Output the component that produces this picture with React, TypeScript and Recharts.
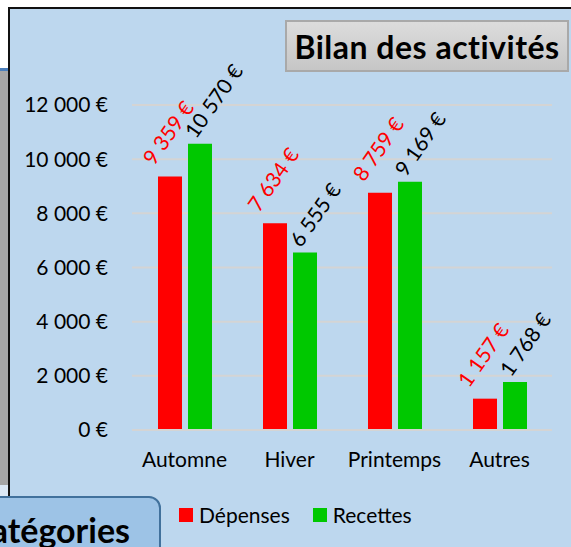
import { BarChart, Bar, XAxis, YAxis, CartesianGrid, LabelList } from "recharts"

const categories = ["Automne", "Hiver", "Printemps", "Autres"]
const depenses = [9359, 7634, 8759, 1157]
const recettes = [10570, 6555, 9169, 1768]
const yTicks = [0, 2000, 4000, 6000, 8000, 10000, 12000]

const series = [
  { key: "depenses", name: "Dépenses", color: "#ff0000", labelColor: "#ff0000", dx: -4, dy: -10 },
  { key: "recettes", name: "Recettes", color: "#00c800", labelColor: "#000000", dx: 8, dy: -4 },
]

const data = categories.map((name, i) => ({
  name,
  depenses: depenses[i],
  recettes: recettes[i],
}))

const FONT = "Lato, 'Open Sans', sans-serif"

const euro = (v: number) =>
  String(v).replace(/\B(?=(\d{3})+(?!\d))/g, "\u00a0") + "\u00a0€"

const rotatedLabel = (color: string, dx: number, dy: number) => (props: any) => {
  const { x, y, value } = props
  const lx = x + dx
  const ly = y + dy
  return (
    <text
      x={lx}
      y={ly}
      fill={color}
      fontSize={21}
      fontFamily={FONT}
      transform={`rotate(-55, ${lx}, ${ly})`}
    >
      {euro(value)}
    </text>
  )
}

export default function App() {
  return (
    <div
      style={{
        position: "absolute",
        left: 0,
        top: 0,
        width: 571,
        height: 547,
        overflow: "hidden",
        background: "#ffffff",
        fontFamily: FONT,
      }}
    >
      {/* fond du graphique */}
      <div
        style={{
          position: "absolute",
          left: 8,
          top: 7,
          right: 0,
          bottom: 0,
          background: "#bdd7ee",
          borderTop: "2px solid #111",
          borderLeft: "2px solid #111",
        }}
      />
      {/* bande grise à gauche */}
      <div
        style={{
          position: "absolute",
          left: 0,
          top: 68,
          width: 8,
          height: 417,
          background: "#a6a6a6",
          borderTop: "3px solid #4a7ebb",
          boxSizing: "border-box",
        }}
      />
      <div style={{ position: "absolute", left: 0, top: 485, width: 8, height: 12, background: "#dbe8f5" }} />

      <div style={{ position: "absolute", left: 0, top: 0 }}>
        <BarChart
          width={571}
          height={547}
          data={data}
          margin={{ top: 105, right: 19, left: 0, bottom: 77 }}
          barSize={24}
          barGap={6}
        >
          <CartesianGrid vertical={false} stroke="#d4d4d4" strokeWidth={2} />
          <XAxis
            dataKey="name"
            height={40}
            axisLine={{ stroke: "#d4d4d4", strokeWidth: 2 }}
            tickLine={false}
            tickSize={0}
            tickMargin={22}
            tick={{ fill: "#000", fontSize: 21, fontFamily: FONT }}
          />
          <YAxis
            width={132}
            domain={[0, 12000]}
            ticks={yTicks}
            axisLine={false}
            tickLine={false}
            tickSize={0}
            tickMargin={24}
            tickFormatter={euro}
            tick={{ fill: "#000", fontSize: 21, fontFamily: FONT }}
          />
          {series.map((s) => (
            <Bar key={s.key} dataKey={s.key} name={s.name} fill={s.color} isAnimationActive={false}>
              <LabelList dataKey={s.key} content={rotatedLabel(s.labelColor, s.dx, s.dy)} />
            </Bar>
          ))}
        </BarChart>
      </div>

      {/* légende */}
      <div
        style={{
          position: "absolute",
          left: 179,
          top: 502,
          display: "flex",
          alignItems: "center",
          gap: 23,
          fontSize: 21,
          color: "#000",
        }}
      >
        {series.map((s) => (
          <div key={s.key} style={{ display: "flex", alignItems: "center" }}>
            <span style={{ width: 14, height: 14, background: s.color, marginRight: 6, display: "inline-block" }} />
            <span>{s.name}</span>
          </div>
        ))}
      </div>

      {/* titre */}
      <div
        style={{
          position: "absolute",
          left: 285,
          top: 20,
          width: 284,
          height: 52,
          boxSizing: "border-box",
          background: "linear-gradient(#dcdcdc, #c6c6c6)",
          border: "2px solid #a9a9a9",
          display: "flex",
          alignItems: "center",
          justifyContent: "center",
          fontWeight: 700,
          fontSize: 32,
          letterSpacing: 0.5,
          color: "#000",
          whiteSpace: "nowrap",
        }}
      >
        Bilan des activités
      </div>

      {/* bouton catégories */}
      <div
        style={{
          position: "absolute",
          left: -20,
          top: 496,
          width: 181,
          height: 80,
          boxSizing: "border-box",
          background: "#9dc3e6",
          border: "2px solid #41719c",
          borderRadius: 12,
        }}
      />
      <div
        style={{
          position: "absolute",
          right: 571 - 130,
          top: 509,
          fontWeight: 700,
          fontSize: 34,
          color: "#000",
          whiteSpace: "nowrap",
        }}
      >
        Catégories
      </div>
    </div>
  )
}
